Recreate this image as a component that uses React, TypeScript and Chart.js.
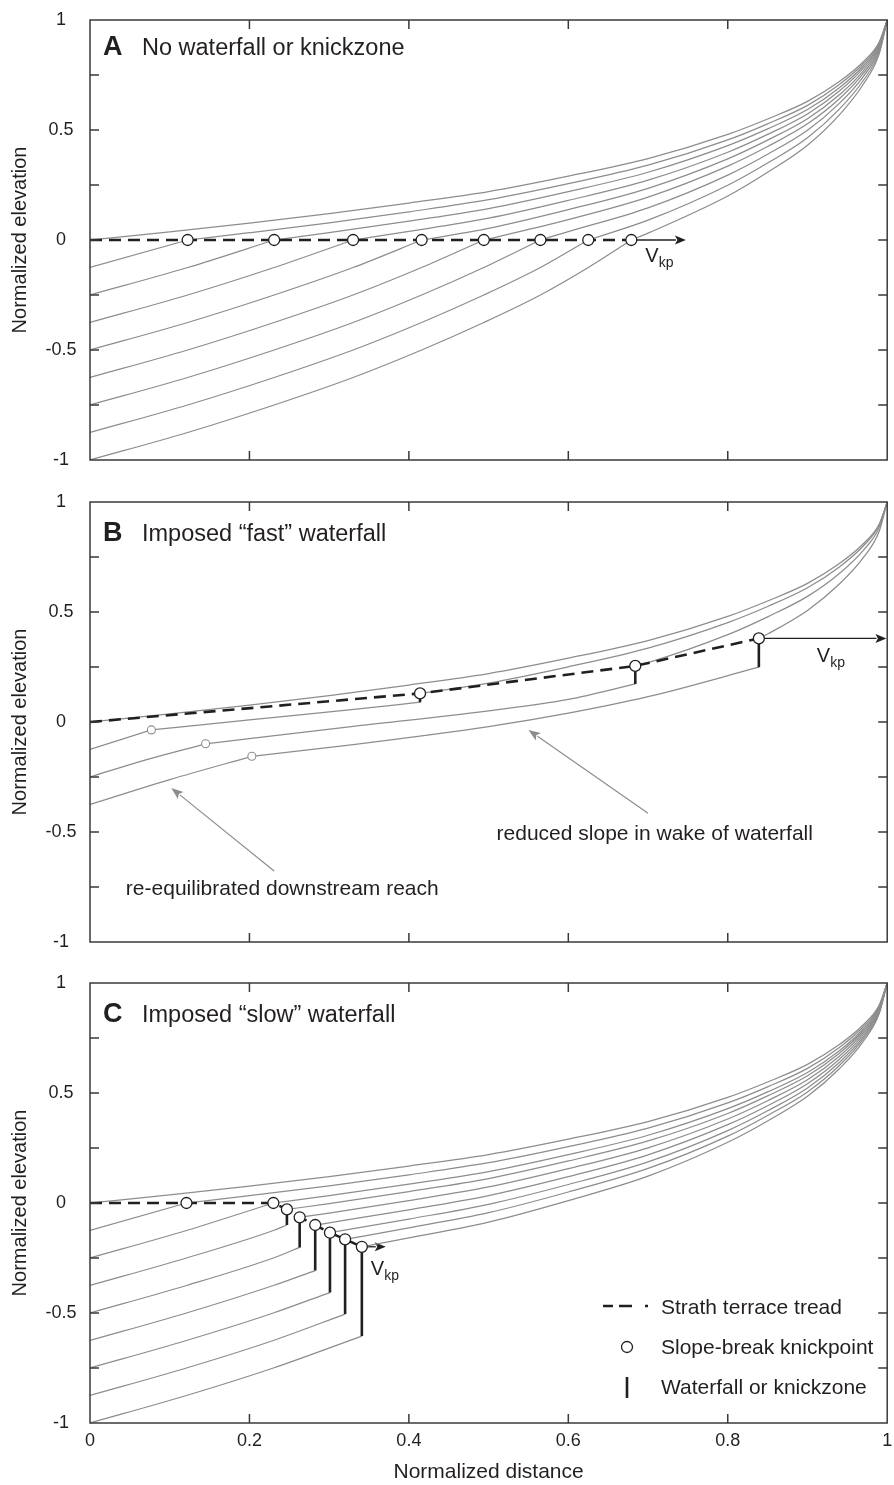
import React, { useEffect, useRef } from 'react';
import { Chart, registerables } from 'chart.js';

Chart.register(...registerables);

type Pt = [number, number];

const FONT = '"Liberation Sans", Arial, Helvetica, sans-serif';
const INK = '#231f20';
const CURVE = '#8d8d8d';
const FRAME = '#3a3a3a';

// ---------------- shared profile (initial, upper-most curve) ----------------
const topProfile: Pt[] = [
  [0, 0], [0.1, 0.037], [0.2, 0.077], [0.3, 0.12], [0.4, 0.168], [0.5, 0.22], [0.6, 0.29],
  [0.7, 0.37], [0.8, 0.48], [0.85, 0.55], [0.9, 0.63], [0.94, 0.72], [0.97, 0.81], [0.99, 0.9], [1, 1],
];

// ---------------- Panel A ----------------
const knickA: Pt[] = [
  [0.1225, 0], [0.231, 0], [0.33, 0], [0.416, 0], [0.494, 0], [0.565, 0], [0.625, 0], [0.679, 0],
];
const terraceA: Pt[] = [[0, 0], [0.679, 0]];
const lowerA: Pt[][] = [
  [[0, -0.125], [0.1225, 0]],
  [[0, -0.25], [0.1225, -0.125], [0.231, 0]],
  [[0, -0.375], [0.1225, -0.25], [0.231, -0.125], [0.33, 0]],
  [[0, -0.5], [0.1225, -0.375], [0.231, -0.25], [0.33, -0.125], [0.416, 0]],
  [[0, -0.625], [0.1225, -0.5], [0.231, -0.375], [0.33, -0.25], [0.416, -0.125], [0.494, 0]],
  [[0, -0.75], [0.1225, -0.625], [0.231, -0.5], [0.33, -0.375], [0.416, -0.25], [0.494, -0.125], [0.565, 0]],
  [[0, -0.875], [0.1225, -0.75], [0.231, -0.625], [0.33, -0.5], [0.416, -0.375], [0.494, -0.25], [0.565, -0.125], [0.625, 0]],
  [[0, -1], [0.1225, -0.875], [0.231, -0.75], [0.33, -0.625], [0.416, -0.5], [0.494, -0.375], [0.565, -0.25], [0.625, -0.125], [0.679, 0]],
];
const upperA: Pt[][] = [
  [[0.1225, 0], [0.2, 0.033], [0.3, 0.078], [0.4, 0.128], [0.5, 0.183], [0.6, 0.256], [0.7, 0.34], [0.8, 0.455], [0.85, 0.528], [0.9, 0.612], [0.94, 0.707], [0.97, 0.801], [0.99, 0.895], [1, 1]],
  [[0.231, 0], [0.3, 0.033], [0.4, 0.086], [0.5, 0.143], [0.6, 0.22], [0.7, 0.308], [0.8, 0.429], [0.85, 0.505], [0.9, 0.593], [0.94, 0.692], [0.97, 0.791], [0.99, 0.89], [1, 1]],
  [[0.33, 0], [0.4, 0.039], [0.5, 0.099], [0.6, 0.18], [0.7, 0.272], [0.8, 0.399], [0.85, 0.48], [0.9, 0.573], [0.94, 0.677], [0.97, 0.781], [0.99, 0.884], [1, 1]],
  [[0.416, 0], [0.5, 0.053], [0.6, 0.138], [0.7, 0.235], [0.8, 0.369], [0.85, 0.454], [0.9, 0.551], [0.94, 0.66], [0.97, 0.769], [0.99, 0.879], [1, 1]],
  [[0.494, 0], [0.6, 0.093], [0.7, 0.195], [0.8, 0.336], [0.85, 0.425], [0.9, 0.528], [0.94, 0.642], [0.97, 0.757], [0.99, 0.872], [1, 1]],
  [[0.565, 0], [0.6, 0.038], [0.7, 0.146], [0.8, 0.295], [0.85, 0.39], [0.9, 0.499], [0.94, 0.621], [0.97, 0.743], [0.99, 0.864], [1, 1]],
  [[0.625, 0], [0.7, 0.09], [0.8, 0.249], [0.85, 0.35], [0.9, 0.465], [0.94, 0.595], [0.97, 0.725], [0.99, 0.855], [1, 1]],
  [[0.679, 0], [0.7, 0.031], [0.8, 0.2], [0.85, 0.308], [0.9, 0.431], [0.94, 0.569], [0.97, 0.708], [0.99, 0.846], [1, 1]],
];

// ---------------- Panel B ----------------
const grayKnickB: Pt[] = [[0.077, -0.036], [0.145, -0.099], [0.203, -0.156]];
const fallXB = [0.414, 0.684, 0.839];
const fallBaseB = [0.09, 0.173, 0.249];
const fallLipB = [0.13, 0.255, 0.38];
const terraceB: Pt[] = [[0, 0], [0.414, 0.13], [0.684, 0.255], [0.839, 0.38]];
const lowerB: Pt[][] = [
  [[0, -0.125], [0.077, -0.036]],
  [[0, -0.25], [0.07, -0.172], [0.145, -0.099]],
  [[0, -0.375], [0.1, -0.262], [0.203, -0.156]],
];
const middleB: Pt[][] = [
  [[0.077, -0.036], [0.2, 0.01], [0.325, 0.055], [0.414, 0.09]],
  [[0.145, -0.099], [0.325, -0.022], [0.5, 0.051], [0.6, 0.103], [0.684, 0.173]],
  [[0.203, -0.156], [0.325, -0.105], [0.5, -0.021], [0.6, 0.04], [0.7, 0.115], [0.839, 0.249]],
];
const upperB: Pt[][] = [
  [[0.414, 0.13], [0.5, 0.177], [0.6, 0.251], [0.7, 0.336], [0.8, 0.452], [0.85, 0.525], [0.9, 0.61], [0.94, 0.705], [0.97, 0.8], [0.99, 0.895], [1, 1]],
  [[0.684, 0.255], [0.7, 0.27], [0.8, 0.397], [0.85, 0.478], [0.9, 0.571], [0.94, 0.675], [0.97, 0.78], [0.99, 0.884], [1, 1]],
  [[0.839, 0.38], [0.85, 0.4], [0.9, 0.507], [0.94, 0.627], [0.97, 0.747], [0.99, 0.867], [1, 1]],
];

// ---------------- Panel C ----------------
const slopeKnickC: Pt[] = [[0.121, 0], [0.23, 0]];
const fallXC = [0.247, 0.263, 0.2825, 0.301, 0.32, 0.341];
const fallBaseC = [-0.1, -0.202, -0.307, -0.407, -0.505, -0.605];
const fallLipC = [-0.029, -0.065, -0.1, -0.135, -0.165, -0.199];
const terraceC: Pt[] = [
  [0, 0], [0.121, 0], [0.23, 0], [0.247, -0.029], [0.263, -0.065], [0.2825, -0.1], [0.301, -0.135], [0.32, -0.165], [0.341, -0.199],
];
const lowerC: Pt[][] = [
  [[0, -0.125], [0.121, 0]],
  [[0, -0.25], [0.121, -0.125], [0.23, 0]],
  [[0, -0.375], [0.121, -0.25], [0.23, -0.125], [0.247, -0.1]],
  [[0, -0.5], [0.121, -0.375], [0.23, -0.25], [0.263, -0.202]],
  [[0, -0.625], [0.121, -0.5], [0.23, -0.375], [0.2825, -0.307]],
  [[0, -0.75], [0.121, -0.625], [0.23, -0.5], [0.301, -0.407]],
  [[0, -0.875], [0.121, -0.75], [0.23, -0.625], [0.32, -0.505]],
  [[0, -1], [0.121, -0.875], [0.23, -0.75], [0.341, -0.605]],
];
const upperC: Pt[][] = [
  [[0.121, 0], [0.2, 0.033], [0.3, 0.078], [0.4, 0.128], [0.5, 0.183], [0.6, 0.256], [0.7, 0.34], [0.8, 0.455], [0.85, 0.528], [0.9, 0.612], [0.94, 0.707], [0.97, 0.801], [0.99, 0.895], [1, 1]],
  [[0.23, 0], [0.3, 0.033], [0.4, 0.086], [0.5, 0.143], [0.6, 0.22], [0.7, 0.308], [0.8, 0.429], [0.85, 0.505], [0.9, 0.593], [0.94, 0.692], [0.97, 0.791], [0.99, 0.89], [1, 1]],
  [[0.247, -0.029], [0.3, -0.003], [0.4, 0.052], [0.5, 0.111], [0.6, 0.191], [0.7, 0.282], [0.8, 0.407], [0.85, 0.487], [0.9, 0.578], [0.94, 0.681], [0.97, 0.783], [0.99, 0.886], [1, 1]],
  [[0.263, -0.065], [0.3, -0.046], [0.4, 0.011], [0.5, 0.073], [0.6, 0.156], [0.7, 0.251], [0.8, 0.382], [0.85, 0.465], [0.9, 0.56], [0.94, 0.667], [0.97, 0.774], [0.99, 0.881], [1, 1]],
  [[0.2825, -0.1], [0.3, -0.09], [0.4, -0.031], [0.5, 0.034], [0.6, 0.12], [0.7, 0.219], [0.8, 0.356], [0.85, 0.442], [0.9, 0.542], [0.94, 0.653], [0.97, 0.765], [0.99, 0.876], [1, 1]],
  [[0.301, -0.135], [0.4, -0.073], [0.5, -0.006], [0.6, 0.084], [0.7, 0.187], [0.8, 0.329], [0.85, 0.419], [0.9, 0.523], [0.94, 0.639], [0.97, 0.755], [0.99, 0.871], [1, 1]],
  [[0.32, -0.165], [0.4, -0.113], [0.5, -0.044], [0.6, 0.05], [0.7, 0.157], [0.8, 0.304], [0.85, 0.398], [0.9, 0.505], [0.94, 0.625], [0.97, 0.746], [0.99, 0.866], [1, 1]],
  [[0.341, -0.199], [0.4, -0.159], [0.5, -0.087], [0.6, 0.011], [0.7, 0.122], [0.8, 0.276], [0.85, 0.373], [0.9, 0.485], [0.94, 0.61], [0.97, 0.735], [0.99, 0.861], [1, 1]],
];

// ---------------- annotation anchors (data units) ----------------
const vkpArrowA: Pt[] = [[0.679, 0], [0.7475, 0]];
const vkpArrowB: Pt[] = [[0.839, 0.38], [0.999, 0.38]];
const vkpArrowC: Pt[] = [[0.341, -0.199], [0.371, -0.199]];
const noteArrowB1: Pt[] = [[0.231, -0.677], [0.102, -0.3]];
const noteArrowB2: Pt[] = [[0.7, -0.415], [0.55, -0.036]];

// ---------------- helpers ----------------
const toXY = (a: Pt[]) => a.map(([x, y]) => ({ x, y }));

const grayCurve = (a: Pt[]) => ({
  data: toXY(a), borderColor: CURVE, borderWidth: 1.25, pointRadius: 0,
  cubicInterpolationMode: 'monotone', fill: false, order: 4,
});
const terrace = (a: Pt[]) => ({
  data: toXY(a), borderColor: INK, borderWidth: 2.6, borderDash: [12, 7], pointRadius: 0,
  tension: 0, fill: false, order: 3, borderCapStyle: 'butt',
});
const fall = (x: number, y0: number, y1: number) => ({
  data: [{ x, y: y0 }, { x, y: y1 }], borderColor: INK, borderWidth: 2.6, pointRadius: 0,
  fill: false, order: 2, borderCapStyle: 'butt',
});
const circles = (a: Pt[], r: number, col: string, bw: number) => ({
  data: toXY(a), showLine: false, pointRadius: r, pointBackgroundColor: '#ffffff',
  pointBorderColor: col, pointBorderWidth: bw, order: 1,
});

function datasetsA() {
  return [
    grayCurve(topProfile),
    ...lowerA.map(grayCurve),
    ...upperA.map(grayCurve),
    terrace(terraceA),
    circles(knickA, 5.5, INK, 1.3),
  ];
}
function datasetsB() {
  return [
    grayCurve(topProfile),
    ...lowerB.map(grayCurve),
    ...middleB.map(grayCurve),
    ...upperB.map(grayCurve),
    terrace(terraceB),
    ...fallXB.map((x, i) => fall(x, fallBaseB[i], fallLipB[i])),
    circles(fallXB.map((x, i) => [x, fallLipB[i]] as Pt), 5.5, INK, 1.3),
    circles(grayKnickB, 4, CURVE, 1.1),
  ];
}
function datasetsC() {
  return [
    grayCurve(topProfile),
    ...lowerC.map(grayCurve),
    ...upperC.map(grayCurve),
    terrace(terraceC),
    ...fallXC.map((x, i) => fall(x, fallBaseC[i], fallLipC[i])),
    circles([...slopeKnickC, ...fallXC.map((x, i) => [x, fallLipC[i]] as Pt)], 5.5, INK, 1.3),
  ];
}

function drawArrow(ctx: CanvasRenderingContext2D, x0: number, y0: number, x1: number, y1: number,
  color: string, width: number, len: number, half: number) {
  const ang = Math.atan2(y1 - y0, x1 - x0);
  const bx = x1 - len * Math.cos(ang);
  const by = y1 - len * Math.sin(ang);
  ctx.setLineDash([]);
  ctx.strokeStyle = color;
  ctx.lineWidth = width;
  ctx.beginPath();
  ctx.moveTo(x0, y0);
  ctx.lineTo(bx + 1 * Math.cos(ang), by + 1 * Math.sin(ang));
  ctx.stroke();
  ctx.fillStyle = color;
  ctx.beginPath();
  ctx.moveTo(x1, y1);
  ctx.lineTo(bx + half * Math.sin(ang), by - half * Math.cos(ang));
  ctx.lineTo(bx + 2.5 * Math.cos(ang), by + 2.5 * Math.sin(ang));
  ctx.lineTo(bx - half * Math.sin(ang), by + half * Math.cos(ang));
  ctx.closePath();
  ctx.fill();
}

const decoPlugin = {
  id: 'deco',
  beforeDatasetsDraw(chart: any, _args: any, o: any) {
    const { ctx, scales: { x, y } } = chart;
    ctx.save();
    (o.arrows || []).forEach((a: any) => {
      drawArrow(ctx, x.getPixelForValue(a.pts[0][0]), y.getPixelForValue(a.pts[0][1]),
        x.getPixelForValue(a.pts[1][0]), y.getPixelForValue(a.pts[1][1]), a.color, a.width, a.len, a.half);
    });
    ctx.restore();
  },
  afterDatasetsDraw(chart: any, _args: any, o: any) {
    const { ctx, chartArea: ca, scales: { x, y } } = chart;
    ctx.save();
    ctx.setLineDash([]);
    // frame
    ctx.strokeStyle = FRAME;
    ctx.lineWidth = 1.5;
    ctx.strokeRect(ca.left, ca.top, ca.right - ca.left, ca.bottom - ca.top);
    // inner ticks
    ctx.beginPath();
    y.ticks.forEach((t: any) => {
      if (t.value <= -0.999 || t.value >= 0.999) return;
      const py = y.getPixelForValue(t.value);
      ctx.moveTo(ca.left, py); ctx.lineTo(ca.left + 9, py);
      ctx.moveTo(ca.right, py); ctx.lineTo(ca.right - 9, py);
    });
    x.ticks.forEach((t: any) => {
      if (t.value <= 0.001 || t.value >= 0.999) return;
      const px = x.getPixelForValue(t.value);
      ctx.moveTo(px, ca.bottom); ctx.lineTo(px, ca.bottom - 9);
      ctx.moveTo(px, ca.top); ctx.lineTo(px, ca.top + 9);
    });
    ctx.stroke();

    // panel letter and title
    ctx.fillStyle = INK;
    ctx.textAlign = 'left';
    ctx.textBaseline = 'alphabetic';
    ctx.font = `bold 27px ${FONT}`;
    ctx.fillText(o.letter, ca.left + 13, ca.top + o.titleDy);
    ctx.font = `23.5px ${FONT}`;
    ctx.fillText(o.title, ca.left + 52, ca.top + o.titleDy);

    // V_kp label
    if (o.vkp) {
      const px = x.getPixelForValue(o.vkp.at[0]) + o.vkp.dx;
      const py = y.getPixelForValue(o.vkp.at[1]) + o.vkp.dy;
      ctx.font = `20px ${FONT}`;
      ctx.fillText('V', px, py);
      const w = ctx.measureText('V').width;
      ctx.font = `14px ${FONT}`;
      ctx.fillText('kp', px + w, py + 5);
    }

    // text notes
    (o.notes || []).forEach((n: any) => {
      ctx.font = `21px ${FONT}`;
      ctx.fillStyle = INK;
      ctx.fillText(n.text, x.getPixelForValue(n.at[0]), y.getPixelForValue(n.at[1]));
    });

    // legend
    if (o.legend) {
      const L = ca.left, T = ca.top;
      ctx.strokeStyle = INK;
      ctx.lineWidth = 2.6;
      ctx.setLineDash([10, 6, 13, 13, 3, 60]);
      ctx.beginPath();
      ctx.moveTo(L + 513, T + 323); ctx.lineTo(L + 558, T + 323);
      ctx.stroke();
      ctx.setLineDash([]);
      ctx.lineWidth = 1.3;
      ctx.fillStyle = '#ffffff';
      ctx.beginPath();
      ctx.arc(L + 537, T + 364, 5.5, 0, Math.PI * 2);
      ctx.fill();
      ctx.stroke();
      ctx.lineWidth = 2.6;
      ctx.beginPath();
      ctx.moveTo(L + 537, T + 394); ctx.lineTo(L + 537, T + 415);
      ctx.stroke();
      ctx.fillStyle = INK;
      ctx.font = `21px ${FONT}`;
      ctx.fillText('Strath terrace tread', L + 571, T + 331);
      ctx.fillText('Slope-break knickpoint', L + 571, T + 371);
      ctx.fillText('Waterfall or knickzone', L + 571, T + 411);
    }
    ctx.restore();
  },
};

const isHalf = (v: number) => Math.abs(v * 2 - Math.round(v * 2)) < 1e-6;
const fmt = (v: number) => {
  const r = Math.round(v * 100) / 100;
  return r === 0 ? '0' : String(r);
};

type PanelSpec = {
  top: number; height: number; padTop: number; xHeight: number; showX: boolean;
  datasets: () => any[]; deco: any;
};

const PANELS: PanelSpec[] = [
  {
    top: 0, height: 480, padTop: 20, xHeight: 20, showX: false, datasets: datasetsA,
    deco: {
      letter: 'A', title: 'No waterfall or knickzone', titleDy: 35,
      arrows: [{ pts: vkpArrowA, color: INK, width: 1.3, len: 11, half: 4.5 }],
      vkp: { at: vkpArrowA[0], dx: 14, dy: 22 },
    },
  },
  {
    top: 480, height: 482, padTop: 22, xHeight: 20, showX: false, datasets: datasetsB,
    deco: {
      letter: 'B', title: 'Imposed \u201Cfast\u201D waterfall', titleDy: 39,
      arrows: [
        { pts: vkpArrowB, color: INK, width: 1.3, len: 11, half: 4.5 },
        { pts: noteArrowB1, color: CURVE, width: 1.2, len: 12, half: 4.5 },
        { pts: noteArrowB2, color: CURVE, width: 1.2, len: 12, half: 4.5 },
      ],
      vkp: { at: vkpArrowB[0], dx: 58, dy: 24 },
      notes: [
        { text: 're-equilibrated downstream reach', at: [0.045, -0.786] },
        { text: 'reduced slope in wake of waterfall', at: [0.51, -0.538] },
      ],
    },
  },
  {
    top: 962, height: 523, padTop: 21, xHeight: 62, showX: true, datasets: datasetsC,
    deco: {
      letter: 'C', title: 'Imposed \u201Cslow\u201D waterfall', titleDy: 39,
      arrows: [{ pts: vkpArrowC, color: INK, width: 1.3, len: 11, half: 4.5 }],
      vkp: { at: vkpArrowC[0], dx: 9, dy: 28 },
      legend: true,
    },
  },
];

function buildConfig(p: PanelSpec): any {
  return {
    type: 'line',
    data: { datasets: p.datasets() },
    options: {
      animation: false,
      responsive: false,
      maintainAspectRatio: false,
      events: [],
      layout: { padding: { top: p.padTop, right: 4, bottom: 0, left: 0 } },
      plugins: { legend: { display: false }, tooltip: { enabled: false }, deco: p.deco },
      scales: {
        x: {
          type: 'linear', min: 0, max: 1,
          ticks: {
            display: p.showX, stepSize: 0.2, autoSkip: false, maxRotation: 0, padding: 7,
            color: INK, font: { size: 18, family: FONT },
            callback: (v: number) => fmt(v),
          },
          grid: { display: false, drawTicks: false },
          border: { display: false },
          title: {
            display: p.showX, text: 'Normalized distance', color: INK,
            font: { size: 21, family: FONT }, padding: { top: 0, bottom: 0 },
          },
          afterFit: (s: any) => { s.height = p.xHeight; s.paddingLeft = 0; s.paddingRight = 0; },
        },
        y: {
          type: 'linear', min: -1, max: 1,
          ticks: {
            stepSize: 0.25, autoSkip: false, padding: 13.5, crossAlign: 'center',
            color: INK, font: { size: 18, family: FONT },
            callback: (v: number) => (isHalf(v) ? fmt(v) : ''),
          },
          grid: { display: false, drawTicks: false },
          border: { display: false },
          title: {
            display: true, text: 'Normalized elevation', color: INK,
            font: { size: 20, family: FONT }, padding: { top: 8.5, bottom: 0 },
          },
          afterFit: (s: any) => { s.width = 90; s.paddingTop = 0; s.paddingBottom = 0; },
        },
      },
    },
    plugins: [decoPlugin],
  };
}

function Panel({ spec }: { spec: PanelSpec }) {
  const ref = useRef<HTMLCanvasElement>(null);
  useEffect(() => {
    if (!ref.current) return;
    const chart = new Chart(ref.current, buildConfig(spec));
    return () => chart.destroy();
  }, [spec]);
  return (
    <canvas
      ref={ref}
      width={894}
      height={spec.height}
      style={{ position: 'absolute', left: 0, top: spec.top, width: 894, height: spec.height, display: 'block' }}
    />
  );
}

export default function App() {
  return (
    <div style={{ position: 'absolute', left: 0, top: 0, width: 894, height: 1485, background: '#ffffff', overflow: 'hidden' }}>
      {PANELS.map((p, i) => (
        <Panel key={i} spec={p} />
      ))}
    </div>
  );
}
